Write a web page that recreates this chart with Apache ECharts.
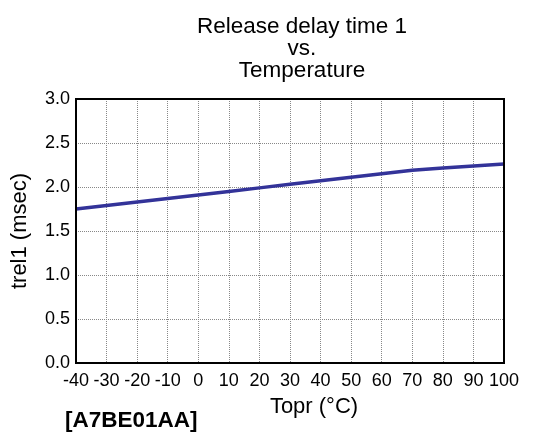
<!DOCTYPE html>
<html><head><meta charset="utf-8">
<script src="https://cdn.jsdelivr.net/npm/echarts@6/dist/echarts.min.js"></script>
<style>html,body{margin:0;padding:0;background:#fff}#c{width:547px;height:433px}</style>
</head><body><div id="c"></div>
<script>
var temps = [-40, -30, -20, -10, 0, 10, 20, 30, 40, 50, 60, 70, 80, 90, 100];
var trel1 = [1.75, 1.79, 1.83, 1.87, 1.91, 1.95, 1.99, 2.03, 2.07, 2.11, 2.15, 2.19, 2.215, 2.24, 2.26];
var titleLines = ['Release delay time 1', 'vs.', 'Temperature'];
var xName = 'Topr (°C)';
var yName = 'trel1 (msec)';
var code = '[A7BE01AA]';

var font = 'Liberation Sans, Arial, sans-serif';
var chart = echarts.init(document.getElementById('c'));
chart.setOption({
  animation: false,
  title: {
    text: titleLines.join('\n'),
    left: 297, top: 11, textAlign: 'center',
    textStyle: {fontFamily: font, fontSize: 22.5, fontWeight: 'normal', color: '#000', lineHeight: 22}
  },
  grid: {left: 76, right: 43, top: 99, bottom: 70, containLabel: false},
  xAxis: {
    type: 'value', min: -40, max: 100, interval: 10,
    name: xName, nameLocation: 'middle', nameGap: 33,
    nameTextStyle: {fontFamily: font, fontSize: 22, color: '#000', padding: [0, 0, 0, 48]},
    axisLine: {show: true, onZero: false, lineStyle: {color: '#000', width: 2}},
    axisTick: {show: false},
    axisLabel: {fontFamily: font, fontSize: 18, color: '#000', margin: 9},
    splitLine: {show: true, lineStyle: {color: '#888', width: 1, type: [1, 1]}}
  },
  yAxis: {
    type: 'value', min: 0, max: 3, interval: 0.5,
    name: yName, nameLocation: 'middle', nameGap: 45, nameRotate: 90,
    nameTextStyle: {fontFamily: font, fontSize: 22, color: '#000'},
    axisLine: {show: true, onZero: false, lineStyle: {color: '#000', width: 2}},
    axisTick: {show: false},
    axisLabel: {fontFamily: font, fontSize: 18, color: '#000', margin: 6,
      formatter: function (v) { return v.toFixed(1); }},
    splitLine: {show: true, lineStyle: {color: '#888', width: 1, type: [1, 1]}}
  },
  graphic: [
    {type: 'rect', shape: {x: 76, y: 99, width: 428, height: 264}, style: {fill: 'none', stroke: '#000', lineWidth: 2}, z: 10},
    {type: 'text', left: 65, top: 409, style: {text: code, font: 'bold 22.5px ' + font, fill: '#000'}}
  ],
  series: [{
    type: 'line', data: temps.map(function (t, i) { return [t, trel1[i]]; }),
    showSymbol: false, lineStyle: {color: '#333399', width: 3.5}, z: 5
  }]
});
</script></body></html>
